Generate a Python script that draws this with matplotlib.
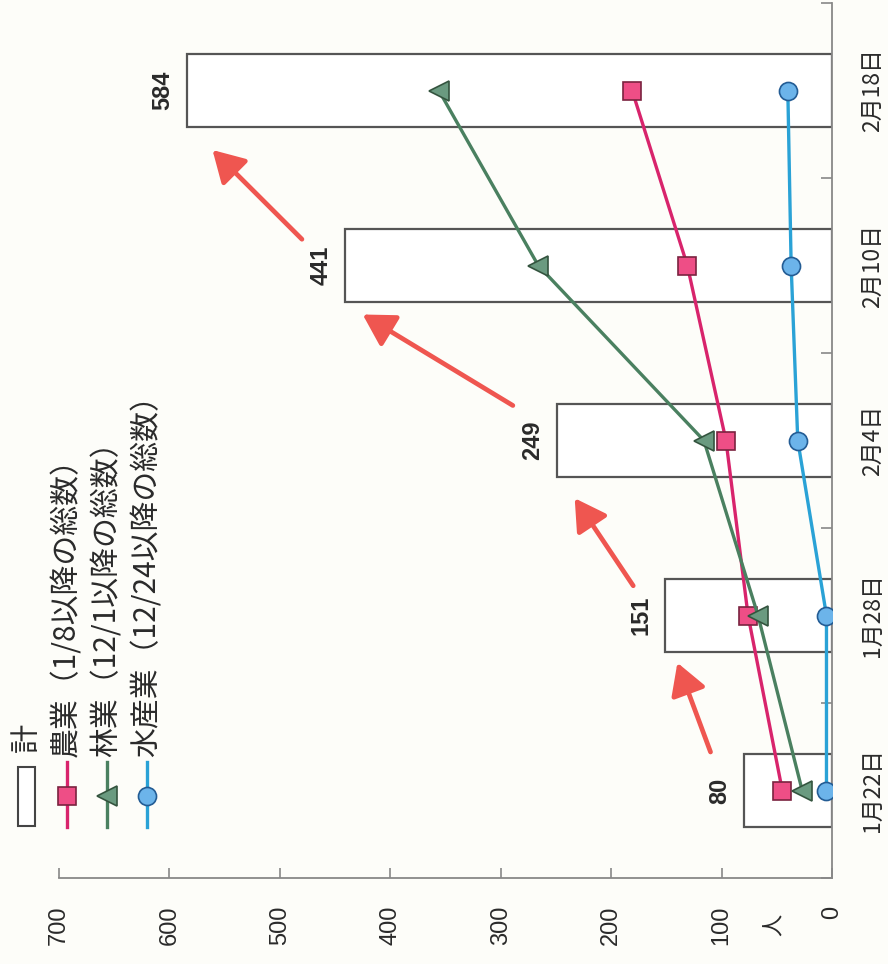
import matplotlib
matplotlib.use("Agg")
import matplotlib.pyplot as plt
from matplotlib.patches import Rectangle, FancyArrowPatch
from matplotlib.lines import Line2D

plt.rcParams['font.family'] = ['Noto Sans CJK JP', 'DejaVu Sans']
NUM_FONT = ['Liberation Sans', 'DejaVu Sans']

# Data
dates = ["1月22日", "1月28日", "2月4日", "2月10日", "2月18日"]
total = [80, 151, 249, 441, 584]
agri = [45, 76, 96, 131, 181]
forest = [27, 67, 116, 266, 356]
fish = [5, 5, 31, 37, 40]
series_names = ["計", "農業（1/8以降の総数）", "林業（12/1以降の総数）", "水産業（12/24以降の総数）"]
value_ticks = [0, 100, 200, 300, 400, 500, 600, 700]
unit_label = "人"
# Growth arrows between totals: (x_tail, y_tail, x_head, y_head) in data units
arrows = [
    (110, 0.22, 140, 0.73),
    (180, 1.17, 233, 1.67),
    (289, 2.20, 425, 2.72),
    (480, 3.15, 561, 3.66),
]

BG = "#fdfdf9"
TXT = "#2a2a2a"
W, H = 888, 964
fig = plt.figure(figsize=(W / 100, H / 100), dpi=100, facecolor=BG)
ax = fig.add_axes([59 / W, 1 - 878 / H, (832 - 59) / W, (878 - 3) / H])
ax.set_facecolor(BG)

ypos = list(range(len(dates)))

# Totals as outlined bars
ax.barh(ypos, total, height=0.42, facecolor="white", edgecolor="#555555",
        linewidth=1.6, zorder=1)

styles = [
    (agri, "#d8246c", "s", "#ee4e86", "#7a2340", 12.5),
    (forest, "#4a8060", "<", "#6a9a80", "#34543f", 15),
    (fish, "#2aa2d6", "o", "#6cb4ea", "#235c94", 13),
]
for vals, lc, mk, mfc, mec, ms in styles:
    ax.plot(vals, ypos, color=lc, lw=2.4, marker=mk, markersize=ms,
            markerfacecolor=mfc, markeredgecolor=mec, markeredgewidth=1.2,
            zorder=3)

# Value labels for totals
for i, v in enumerate(total):
    ax.annotate(str(v), (v, i), xytext=(-9, 0), textcoords="offset points",
                rotation=90, ha="right", va="center", fontsize=17,
                fontweight="bold", color=TXT, family=NUM_FONT)

# Red arrows
for xt, yt, xh, yh in arrows:
    ax.add_patch(FancyArrowPatch((xt, yt), (xh, yh),
                                 arrowstyle="-|>,head_length=0.95,head_width=0.55",
                                 mutation_scale=20, color="#ef5650", lw=3.4,
                                 shrinkA=0, shrinkB=0, zorder=4))

ax.set_xlim(700, 0)
ax.set_ylim(-0.5, len(dates) - 0.5)

for s in ["top", "left"]:
    ax.spines[s].set_visible(False)
for s in ["bottom", "right"]:
    ax.spines[s].set_color("#888888")
    ax.spines[s].set_linewidth(1.3)

ax.set_xticks(value_ticks)
ax.set_xticklabels([str(t) for t in value_ticks], rotation=90, fontsize=17,
                   color=TXT, family=NUM_FONT)
ax.tick_params(axis="x", direction="in", length=7, width=1.2, color="#888888",
               pad=20)
for lbl in ax.get_xticklabels():
    lbl.set_va("top")
    lbl.set_ha("center")

ax.yaxis.tick_right()
ax.set_yticks(ypos)
ax.set_yticklabels(dates, rotation=90, fontsize=16.5, color=TXT, va="center")
ax.set_yticks([y - 0.5 for y in range(len(dates) + 1)], minor=True)
ax.tick_params(axis="y", which="major", length=0, pad=21)
ax.tick_params(axis="y", which="minor", direction="in", length=8, width=1.2,
               color="#888888")

ax.text(52, -0.054, unit_label, transform=ax.get_xaxis_transform(),
        rotation=90, ha="center", va="center", fontsize=16, color=TXT)

# Rotated legend along the left edge
def fpx(x, y):
    return (x / W, 1 - y / H)

fig.patches.append(Rectangle(fpx(18, 826), 17 / W, 59 / H, transform=fig.transFigure,
                             facecolor="white", edgecolor="#444444", lw=1.5))
fig.text(*fpx(27, 752), series_names[0], rotation=90, ha="center", va="bottom",
         fontsize=21, color=TXT)
legend_x = [67, 107, 147]
for (vals, lc, mk, mfc, mec, ms), lx, name in zip(styles, legend_x, series_names[1:]):
    x0, y0 = fpx(lx, 827)
    x1, y1 = fpx(lx, 762)
    fig.add_artist(Line2D([x0, x1], [y0, y1], transform=fig.transFigure,
                          color=lc, lw=2.4))
    xm, ym = fpx(lx, 796)
    fig.add_artist(Line2D([xm], [ym], transform=fig.transFigure, marker=mk,
                          markersize=ms, markerfacecolor=mfc,
                          markeredgecolor=mec, markeredgewidth=1.2))
    fig.text(*fpx(lx, 757), name, rotation=90, ha="center", va="bottom",
             fontsize=21.5, color=TXT)

fig.savefig("out.png", dpi=100, facecolor=BG)
